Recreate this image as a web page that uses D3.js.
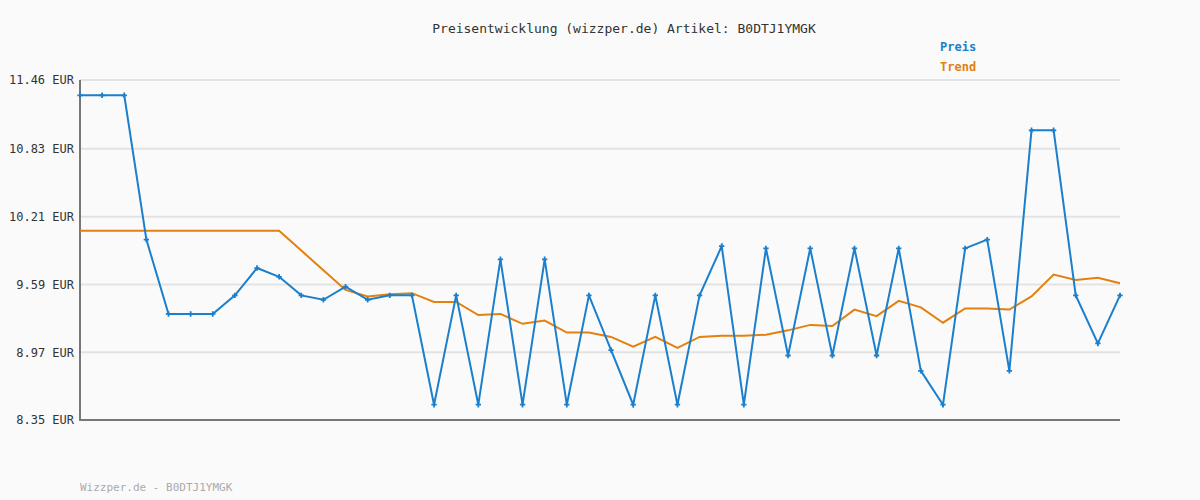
<!DOCTYPE html>
<html><head><meta charset="utf-8">
<script src="https://cdn.jsdelivr.net/npm/d3@7"></script>
<style>body{margin:0;background:#fafafa}text{font-family:"DejaVu Sans Mono",monospace}</style>
</head><body><svg id="c" width="1200" height="500"></svg>
<script>
const preis = [11.32,11.32,11.32,10.00,9.32,9.32,9.32,9.49,9.74,9.66,9.49,9.45,9.57,9.45,9.49,9.49,8.49,9.49,8.49,9.82,8.49,9.82,8.49,9.49,8.99,8.49,9.49,8.49,9.49,9.94,8.49,9.92,8.94,9.92,8.94,9.92,8.94,9.92,8.80,8.49,9.92,10.00,8.80,11.00,11.00,9.49,9.05,9.49];
const trend = [10.08,10.08,10.08,10.08,10.08,10.08,10.08,10.08,10.08,10.08,9.90,9.72,9.54,9.48,9.50,9.51,9.43,9.43,9.31,9.32,9.23,9.26,9.15,9.15,9.11,9.02,9.11,9.01,9.11,9.12,9.12,9.13,9.17,9.22,9.21,9.36,9.30,9.44,9.38,9.24,9.37,9.37,9.36,9.48,9.68,9.63,9.65,9.60];
const yTicks = [8.35,8.97,9.59,10.21,10.83,11.46];
const svg = d3.select("#c");
svg.append("rect").attr("width",1200).attr("height",500).attr("fill","#fafafa");
const x = d3.scaleLinear().domain([0,preis.length-1]).range([80,1120]);
const y = d3.scaleLinear().domain([8.35,11.46]).range([420,80]);
svg.append("g").selectAll("line").data(yTicks).join("line")
 .attr("x1",80).attr("x2",1120).attr("y1",d=>y(d)).attr("y2",d=>y(d))
 .attr("stroke","#e3e3e3").attr("stroke-width",2);
const ax = svg.append("g").attr("transform","translate(80,0)")
 .call(d3.axisLeft(y).tickValues(yTicks).tickSize(0).tickPadding(6).tickFormat(d=>d.toFixed(2)+" EUR"));
ax.select(".domain").remove();
ax.selectAll("text").attr("font-size",12).attr("fill","#333").attr("font-family","DejaVu Sans Mono");
svg.append("line").attr("x1",80).attr("x2",80).attr("y1",80).attr("y2",421).attr("stroke","#777").attr("stroke-width",2);
svg.append("line").attr("x1",79).attr("x2",1120).attr("y1",420).attr("y2",420).attr("stroke","#777").attr("stroke-width",2);
const line = d3.line().x((d,i)=>x(i)).y(d=>y(d));
svg.append("path").datum(trend).attr("d",line).attr("fill","none").attr("stroke","#e3800e").attr("stroke-width",2);
svg.append("path").datum(preis).attr("d",line).attr("fill","none").attr("stroke","#1a7fcc").attr("stroke-width",2);
svg.append("g").selectAll("path").data(preis).join("path")
 .attr("d",d3.symbol(d3.symbolCross,16)).attr("transform",(d,i)=>`translate(${x(i)},${y(d)})`).attr("fill","#1a7fcc");
svg.append("text").attr("x",624).attr("y",33).attr("text-anchor","middle").attr("font-size",13).attr("fill","#333").text("Preisentwicklung (wizzper.de) Artikel: B0DTJ1YMGK");
svg.append("text").attr("x",940).attr("y",51).attr("font-size",12).attr("font-weight","bold").attr("fill","#1a7fcc").text("Preis");
svg.append("text").attr("x",940).attr("y",71).attr("font-size",12).attr("font-weight","bold").attr("fill","#e3800e").text("Trend");
svg.append("text").attr("x",80).attr("y",491).attr("font-size",11).attr("fill","#aaa").text("Wizzper.de - B0DTJ1YMGK");
</script></body></html>
